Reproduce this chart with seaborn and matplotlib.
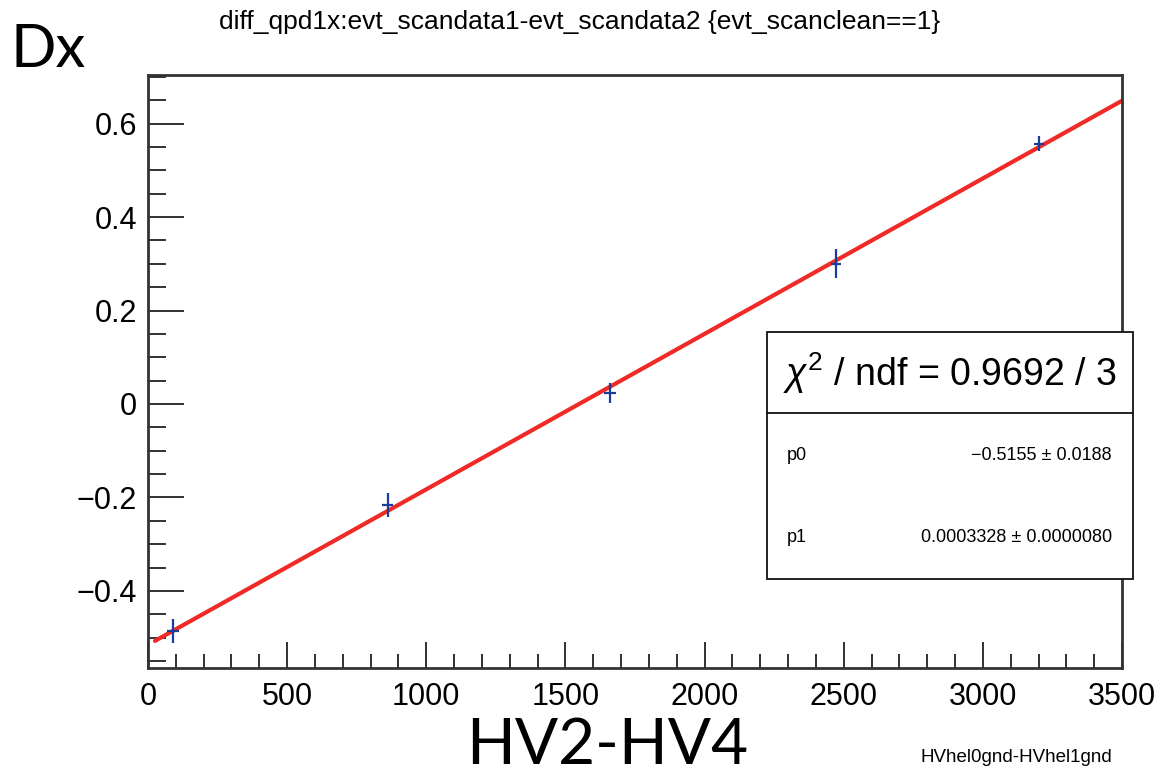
import matplotlib
matplotlib.use("Agg")
import matplotlib.pyplot as plt
import matplotlib.ticker as mtick
import pandas as pd
import seaborn as sns

# measured points (x, y) with error bars
pt_x = [90, 862, 1660, 2472, 3201]
pt_y = [-0.486, -0.216, 0.024, 0.300, 0.557]
pt_xerr = [20, 20, 20, 18, 18]
pt_yerr = [0.026, 0.026, 0.021, 0.031, 0.016]

# fitted straight line, read at both ends of the drawn range
fit_x = [25, 3500]
fit_y = [-0.507, 0.649]

x_ticks = [0, 500, 1000, 1500, 2000, 2500, 3000, 3500]
y_ticks = [-0.4, -0.2, 0.0, 0.2, 0.4, 0.6]

sns.set_theme(style="white")
plt.rcParams["font.family"] = ["Liberation Sans", "DejaVu Sans"]
plt.rcParams["text.color"] = "black"
plt.rcParams["mathtext.fontset"] = "custom"
plt.rcParams["mathtext.rm"] = "Liberation Sans"
plt.rcParams["mathtext.it"] = "Liberation Sans:italic"

fig = plt.figure(figsize=(11.71, 7.8), dpi=100)
ax = fig.add_axes([148 / 1171, 1 - 668 / 780, (1122 - 148) / 1171, (668 - 75) / 780])

fit_df = pd.DataFrame({"x": fit_x, "y": fit_y})
sns.lineplot(data=fit_df, x="x", y="y", color="#f02a26", linewidth=3, ax=ax)
ax.errorbar(pt_x, pt_y, xerr=pt_xerr, yerr=pt_yerr, fmt="none",
            ecolor="#1a3c9a", elinewidth=1.6, capsize=0)

ax.set_xlim(0, 3500)
ax.set_ylim(-0.565, 0.704)
ax.set_xticks(x_ticks)
ax.set_yticks(y_ticks)
ax.xaxis.set_minor_locator(mtick.MultipleLocator(100))
ax.yaxis.set_minor_locator(mtick.MultipleLocator(0.05))
ax.yaxis.set_major_formatter(mtick.FuncFormatter(
    lambda v, _: "0" if abs(v) < 1e-9 else f"{v:.1f}".replace("-", "\u2212")))
ax.tick_params(axis="both", which="both", direction="in", color="#222222",
               labelcolor="black", labelsize=22, width=1.3,
               bottom=True, left=True, top=False, right=False)
ax.tick_params(axis="y", which="major", length=26, pad=8)
ax.tick_params(axis="y", which="minor", length=13)
ax.tick_params(axis="x", which="major", length=19, pad=10)
ax.tick_params(axis="x", which="minor", length=10)
ax.set_xlabel("")
ax.set_ylabel("")
for s in ax.spines.values():
    s.set_visible(True)
    s.set_color("#333333")
    s.set_linewidth(2)

# title and axis titles
fig.text(580 / 1171, 1 - 22 / 780, "diff_qpd1x:evt_scandata1-evt_scandata2 {evt_scanclean==1}",
         ha="center", va="center", fontsize=19)
fig.text(1112 / 1171, 1 - 757 / 780, "HVhel0gnd-HVhel1gnd",
         ha="right", va="center", fontsize=13.5)
fig.text(11 / 1171, 1 - 50 / 780, "Dx", ha="left", va="center",
         fontsize=43, family=["Lato", "DejaVu Sans"])
fig.text(607 / 1171, 1 - 746 / 780, "HV2-HV4", ha="center", va="center",
         fontsize=46, family=["Lato", "DejaVu Sans"])

# fit statistics box
bx0, bx1 = 767 / 1171, 1133 / 1171
by_top, by_mid, by_bot = 1 - 332 / 780, 1 - 413 / 780, 1 - 579 / 780
box = plt.Rectangle((bx0, by_bot), bx1 - bx0, by_top - by_bot, transform=fig.transFigure,
                    facecolor="white", edgecolor="#111111", linewidth=1.3, zorder=5)
fig.add_artist(box)
fig.add_artist(plt.Line2D([bx0, bx1], [by_mid, by_mid], transform=fig.transFigure,
                          color="#111111", linewidth=1.3, zorder=6))
fig.text((bx0 + bx1) / 2, 1 - 373 / 780, r"$\chi^{2}$ / ndf = 0.9692 / 3",
         ha="center", va="center", fontsize=27, zorder=7)
fig.text(787 / 1171, 1 - 455 / 780, "p0", ha="left", va="center", fontsize=13, zorder=7)
fig.text(1112 / 1171, 1 - 455 / 780, "\u22120.5155 \u00b1 0.0188", ha="right", va="center",
         fontsize=13, zorder=7)
fig.text(787 / 1171, 1 - 538 / 780, "p1", ha="left", va="center", fontsize=13, zorder=7)
fig.text(1112 / 1171, 1 - 538 / 780, "0.0003328 \u00b1 0.0000080", ha="right", va="center",
         fontsize=13, zorder=7)

fig.savefig("out.png", dpi=100)
